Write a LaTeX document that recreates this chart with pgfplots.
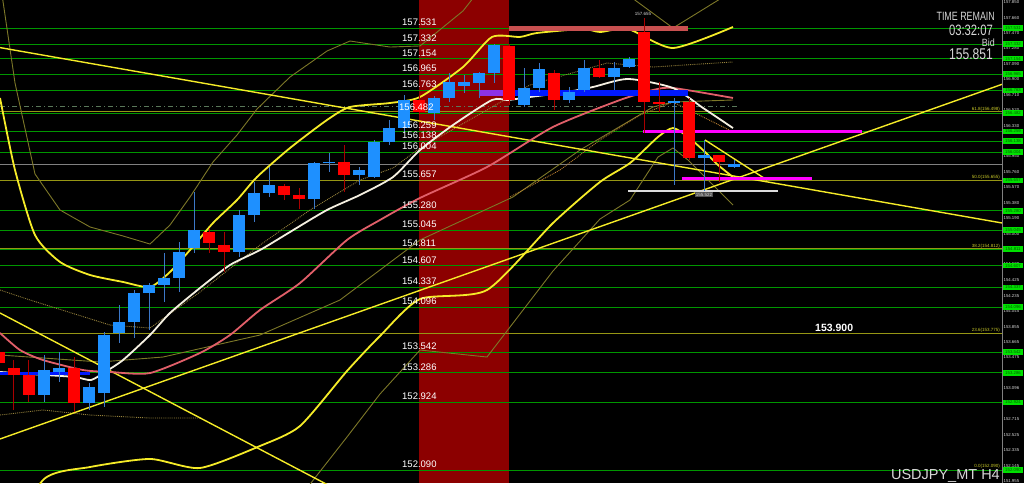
\documentclass[border=0pt]{standalone}
\usepackage{fontspec}
\setmainfont{Liberation Sans}
\usepackage{graphicx}
\usepackage{pgfplots}
\usepackage{pgfplotstable}
\pgfplotsset{compat=1.18}
\definecolor{bgred}{RGB}{140,0,0}
\definecolor{gline}{RGB}{0,150,0}
\definecolor{fib}{RGB}{150,150,20}
\definecolor{fibtxt}{RGB}{200,200,40}
\definecolor{upc}{RGB}{30,144,255}
\definecolor{upw}{RGB}{60,120,200}
\definecolor{dnc}{RGB}{255,0,0}
\definecolor{dnw}{RGB}{170,0,0}
\definecolor{yel}{RGB}{245,235,40}
\definecolor{olv}{RGB}{125,120,40}
\definecolor{pinkma}{RGB}{225,95,105}
\definecolor{whitema}{RGB}{245,240,225}
\definecolor{barred}{RGB}{200,80,80}
\definecolor{mag}{RGB}{255,0,255}
\definecolor{dotc}{RGB}{150,130,60}
\definecolor{dotor}{RGB}{190,130,50}
\definecolor{tgray}{RGB}{215,215,215}
\definecolor{boxg}{RGB}{0,225,0}

\pgfplotstableread{
x o h l c
2 153.014 153.506 152.927 153.321
3 153.297 153.543 153.174 153.346
5 152.915 153.161 152.829 153.112
6 153.038 153.789 152.866 153.752
7 153.777 154.121 153.654 153.912
8 153.912 154.306 153.715 154.269
9 154.269 154.392 153.814 154.368
10 154.368 154.762 154.158 154.454
11 154.454 154.897 154.281 154.774
12 154.823 155.512 154.762 155.045
15 154.774 155.291 154.712 155.229
16 155.229 155.636 155.143 155.500
17 155.500 155.820 155.451 155.599
20 155.426 155.880 155.303 155.869
21 155.869 155.993 155.759 155.882
23 155.722 155.820 155.599 155.783
24 155.697 156.153 155.685 156.128
25 156.128 156.399 156.091 156.300
26 156.300 156.707 156.239 156.645
28 156.485 156.694 156.399 156.670
29 156.670 156.977 156.620 156.867
30 156.817 156.953 156.731 156.867
31 156.854 156.990 156.670 156.977
32 156.977 157.334 156.854 157.322
34 156.583 157.039 156.559 156.793
35 156.793 157.100 156.743 157.027
37 156.645 156.805 156.608 156.743
38 156.768 157.137 156.743 157.039
40 156.928 157.113 156.768 157.039
41 157.051 157.174 157.039 157.150
44 156.608 156.670 155.599 156.633
46 155.931 156.153 155.525 155.968
48 155.815 155.906 155.808 155.851
}\upcand

\pgfplotstableread{
x o h l c
-1 153.543 154.023 153.321 153.407
0 153.346 153.444 152.829 153.260
1 153.260 153.444 152.927 153.014
4 153.346 153.481 152.804 152.915
13 155.020 155.069 154.762 154.885
14 154.860 155.020 154.528 154.774
18 155.586 155.611 155.414 155.476
19 155.476 155.562 155.303 155.426
22 155.882 156.091 155.512 155.722
27 156.645 156.707 156.460 156.497
33 157.310 157.334 156.583 156.645
36 156.977 157.014 156.522 156.645
39 157.039 157.137 156.916 156.928
42 157.482 157.654 156.239 156.620
43 156.620 156.867 156.497 156.596
45 156.620 156.670 155.906 155.931
47 155.968 155.968 155.636 155.882
}\dncand

\begin{document}
\begin{tikzpicture}
\begin{axis}[
  x=15pt, y=81.235pt, scale only axis,
  xmin=-0.9333, xmax=67.3333, ymin=151.930, ymax=157.876,
  axis lines=none, xtick=\empty, ytick=\empty,
  clip=true,
]
% background
\addplot[fill=black, draw=none] coordinates {(-0.9333,151.93) (-0.9333,157.876) (67.3333,157.876) (67.3333,151.93)} --cycle;
\addplot[fill=bgred, draw=none] coordinates {(27,151.93) (27,157.876) (33,157.876) (33,151.93)} --cycle;

% green levels
\pgfplotsinvokeforeach{157.531,157.332,157.154,156.965,156.763,156.482,156.259,156.138,156.004,155.657,155.280,155.045,154.811,154.607,154.337,154.096,153.542,153.286,152.924,152.090}{
  \addplot[gline, line width=0.9pt] coordinates {(-0.9333,#1) (65.867,#1)};
}
% fib levels
\pgfplotsinvokeforeach{156.498,155.655,154.812,153.775}{
  \addplot[fib, line width=0.9pt] coordinates {(-0.9333,#1) (65.867,#1)};
}
% bid line
\addplot[gray, line width=0.8pt] coordinates {(-0.9333,155.851) (65.867,155.851)};
% dash-dot
\addplot[color={rgb,255:red,90;green,120;blue,90}, line width=0.9pt, dash pattern=on 5pt off 3pt on 1pt off 3pt] coordinates {(-0.9333,156.571) (48.4,156.571)};

% thin olive bands
\addplot[olv, line width=0.9pt] coordinates {(-0.933,158.110) (0.067,156.854) (1.4,155.734) (3.067,155.291) (5.067,155.082) (7.267,154.971) (9.067,154.872) (10.4,155.106) (11.733,155.451) (13.267,155.882) (14.867,156.214) (16.2,156.534) (18.4,156.928) (20.867,157.248) (22.4,157.371) (25.067,157.297) (27.067,157.310) (29.933,157.741) (31.867,158.196) (40.933,157.938) (43.933,157.531) (47.933,157.987)};
\addplot[olv, line width=0.9pt] coordinates {(19.067,151.758) (22.2,152.497) (24.4,153.026) (27.067,153.567) (31.533,153.481) (35.933,154.540) (39.067,155.180) (41.067,155.414) (42.933,155.943) (43.933,156.054) (44.933,155.906) (45.933,155.722) (47.933,155.352)};
\addplot[olv, line width=0.9pt] coordinates {(-0.933,153.506) (5.733,153.420) (9.933,153.481) (16.4,153.752) (21.733,154.183) (27.067,154.922) (33.267,155.451) (37.733,156.029) (42.6,156.559) (43.933,156.620) (47.933,156.645)};
% dotted
\addplot[dotc, line width=0.9pt, densely dotted] coordinates {(-0.933,154.306) (1.067,154.183) (6.4,153.875) (9.067,153.838) (12.4,154.281) (16.4,154.860) (19.733,155.291) (23.067,155.660) (25.267,155.808) (27.067,156.054) (31.533,156.522) (34.4,156.830) (39.533,157.100) (42.6,157.051) (47.933,157.113)};
\addplot[dotc, line width=0.9pt, densely dotted] coordinates {(-0.933,152.767) (1.933,152.829) (5.067,152.767) (9.067,152.730) (12.4,152.730)};
\addplot[dotor, line width=0.9pt, densely dotted] coordinates {(33.067,155.451) (36.4,155.783) (39.067,156.153) (41.733,156.460) (43.933,156.620) (45.933,156.436) (47.933,156.251)};

% Bollinger bands
\addplot[yel, line width=1.8pt, smooth, tension=0.4] coordinates {(-0.933,156.670) (0.067,155.783) (1.4,154.983) (3.067,154.651) (5.067,154.491) (7.267,154.405) (9.067,154.343) (10.4,154.528) (11.733,154.798) (13.267,155.131) (14.867,155.414) (16.2,155.697) (18.4,156.054) (20.867,156.399) (22.4,156.559) (25.067,156.608) (27.067,156.682) (29.933,157.051) (31.867,157.421) (33.733,157.421) (34.867,157.470) (37.933,157.519) (39.067,157.482) (40.933,157.519) (43.933,157.285) (47.933,157.544)};
\addplot[yel, line width=1.8pt, smooth, tension=0.4] coordinates {(-0.933,151.0) (1.933,151.967) (5.067,152.127) (9.067,152.226) (12.4,152.115) (16.4,152.386) (19.067,152.632) (22.2,153.309) (24.4,153.740) (27.067,154.195) (31.533,154.306) (35.933,155.131) (39.067,155.636) (41.067,155.869) (42.933,156.190) (43.933,156.300) (44.933,156.190) (45.933,156.029) (46.933,155.845) (47.933,155.697)};

% trend lines
\addplot[yel, line width=1.4pt] coordinates {(-0.933,157.290) (65.867,155.131)};
\addplot[yel, line width=1.4pt] coordinates {(-0.933,152.472) (65.867,156.838)};
\addplot[yel, line width=1.4pt] coordinates {(-0.933,154.023) (21.067,151.893)};
\addplot[yel, line width=1.4pt] coordinates {(46.067,156.153) (50.2,155.660)};

% moving averages
\addplot[pinkma, line width=1.8pt, smooth, tension=0.4] coordinates {(-0.933,153.777) (0.4,153.567) (1.933,153.444) (4.6,153.321) (6.4,153.297) (9.067,153.284) (12.4,153.531) (14.4,153.752) (16.4,154.060) (19.067,154.392) (22.2,154.922) (24.4,155.168) (27.067,155.439) (31.533,155.820) (35.933,156.313) (40.4,156.645) (42.6,156.768) (43.933,156.793) (47.933,156.670)};
\addplot[whitema, line width=1.8pt, smooth, tension=0.4] coordinates {(-0.933,153.297) (2.067,153.260) (4.067,153.235) (5.133,153.198) (6.067,153.297) (7.267,153.444) (9.067,153.752) (10.4,154.023) (12.4,154.331) (14.4,154.614) (16.4,154.798) (18.4,155.020) (20.867,155.291) (23.067,155.476) (25.267,155.697) (27.067,156.029) (29.267,156.337) (31.867,156.645) (32.933,156.645) (34.4,156.682) (36.867,156.743) (38.6,156.805) (40.933,156.904) (43.933,156.793) (45.933,156.547) (47.933,156.300)};

% level bars
\addplot[barred, line width=5pt] coordinates {(33,157.525) (44.933,157.525)};
\addplot[color={rgb,255:red,140;green,50;blue,230}, line width=6pt] coordinates {(31.067,156.731) (33,156.731)};
\addplot[color={rgb,255:red,0;green,25;blue,255}, line width=6pt] coordinates {(33,156.731) (44.933,156.731)};
\addplot[color={rgb,255:red,0;green,25;blue,255}, line width=3pt] coordinates {(-0.933,153.278) (5.067,153.278)};
\addplot[mag, line width=3pt] coordinates {(41.933,156.263) (56.533,156.263)};
\addplot[mag, line width=2.5pt] coordinates {(44.533,155.679) (53.2,155.679)};
\addplot[color={rgb,255:red,220;green,220;blue,220}, line width=1.5pt] coordinates {(40.933,155.525) (50.933,155.525)};

% candles: wicks
\addplot[draw=none, forget plot, error bars/.cd, y dir=plus, y explicit, error mark=none, error bar style={line width=1pt, draw=upw}] table[x=x, y=l, y error plus expr=\thisrow{h}-\thisrow{l}] {\upcand};
\addplot[draw=none, forget plot, error bars/.cd, y dir=plus, y explicit, error mark=none, error bar style={line width=1pt, draw=dnw}] table[x=x, y=l, y error plus expr=\thisrow{h}-\thisrow{l}] {\dncand};
% candles: bodies
\addplot[draw=none, forget plot, error bars/.cd, y dir=plus, y explicit, error mark=none, error bar style={line width=11.5pt, draw=upc}] table[x=x, y=o, y error plus expr=\thisrow{c}-\thisrow{o}] {\upcand};
\addplot[draw=none, forget plot, error bars/.cd, y dir=plus, y explicit, error mark=none, error bar style={line width=11.5pt, draw=dnc}] table[x=x, y=c, y error plus expr=\thisrow{o}-\thisrow{c}] {\dncand};

% price scale
\addplot[gray, line width=0.8pt] coordinates {(65.867,151.93) (65.867,157.876)};
\pgfplotsinvokeforeach{157.850,157.660,157.470,157.280,157.090,156.900,156.710,156.520,156.330,156.140,155.950,155.760,155.570,155.380,155.190,155.000,154.810,154.620,154.425,154.235,154.045,153.855,153.665,153.475,153.285,153.096,152.905,152.715,152.525,152.335,152.145,151.955}{
  \node[anchor=west, inner sep=0pt, text=tgray, font=\fontsize{4.3}{5}\selectfont] at (axis cs:65.96,#1) {#1};
}
\pgfplotsinvokeforeach{157.531,157.332,157.154,156.965,156.763,156.482,156.259,156.138,156.004,155.657,155.280,155.045,154.811,154.607,154.337,154.096,153.542,153.286,152.924,152.090}{
  \node[fill=boxg, inner sep=0pt, minimum width=20pt, minimum height=5.5pt, text={rgb,255:red,0;green,90;blue,0}, font=\fontsize{4.3}{5}\selectfont] at (axis cs:66.6,#1) {#1};
}
\end{axis}

\begin{scope}[shift={(current axis.north west)}, x=1pt, y=-1pt]
\def\lbl#1#2#3{\node[anchor=base west, inner sep=0pt, text=white, font=\fontsize{9.5}{10}\selectfont] at (#1,#2) {#3};}
\lbl{402}{25.5}{157.531}
\lbl{402}{41.7}{157.332}
\lbl{402}{56.2}{157.154}
\lbl{402}{71.5}{156.965}
\lbl{402}{87.9}{156.763}
\lbl{399}{110.7}{156.482}
\lbl{402}{128.9}{156.259}
\lbl{402}{138.7}{156.138}
\lbl{402}{149.6}{156.004}
\lbl{402}{177.8}{155.657}
\lbl{402}{208.4}{155.280}
\lbl{402}{227.5}{155.045}
\lbl{402}{246.5}{154.811}
\lbl{402}{263.1}{154.607}
\lbl{402}{285.0}{154.337}
\lbl{402}{304.6}{154.096}
\lbl{402}{349.6}{153.542}
\lbl{402}{370.4}{153.286}
\lbl{402}{399.8}{152.924}
\lbl{402}{467.5}{152.090}
% fib labels
\def\fl#1#2{\node[anchor=base east, inner sep=0pt, text=fibtxt, font=\fontsize{4.5}{5}\selectfont] at (1000,#1) {#2};}
\fl{110.5}{61.8(156.498)}
\fl{178.5}{50.0(155.655)}
\fl{247.5}{38.2(154.812)}
\fl{331.5}{23.6(153.775)}
\fl{467.5}{0.0(152.090)}
% info texts
\node[anchor=base east, inner sep=0pt, text=tgray, font=\fontsize{12}{12}\selectfont] at (995,21) {\scalebox{0.74}[1]{TIME REMAIN}};
\node[anchor=base east, inner sep=0pt, text=tgray, font=\fontsize{15}{15}\selectfont] at (993,36) {\scalebox{0.75}[1]{03:32:07}};
\node[anchor=base east, inner sep=0pt, text=tgray, font=\fontsize{10.5}{11}\selectfont] at (995,47) {\scalebox{0.85}[1]{Bid}};
\node[anchor=base east, inner sep=0pt, text=tgray, font=\fontsize{15.5}{16}\selectfont] at (993,60) {\scalebox{0.78}[1]{155.851}};
\node[anchor=base west, inner sep=0pt, text=white, font=\bfseries\fontsize{10.5}{11}\selectfont] at (815,331.5) {153.900};
\node[anchor=base east, inner sep=0pt, text=tgray, font=\fontsize{14.5}{15}\selectfont] at (1000,479) {USDJPY\_MT H4};
\node[anchor=base, inner sep=0pt, text=tgray, font=\fontsize{4.5}{5}\selectfont] at (643,16) {157.655};
\node[fill={rgb,255:red,80;green,80;blue,80}, inner sep=0.6pt, text=tgray, font=\fontsize{4.5}{5}\selectfont] at (704,194.5) {155.522};
\end{scope}
\pgfresetboundingbox
\useasboundingbox (current axis.south west) rectangle (current axis.north east);
\end{tikzpicture}
\end{document}
